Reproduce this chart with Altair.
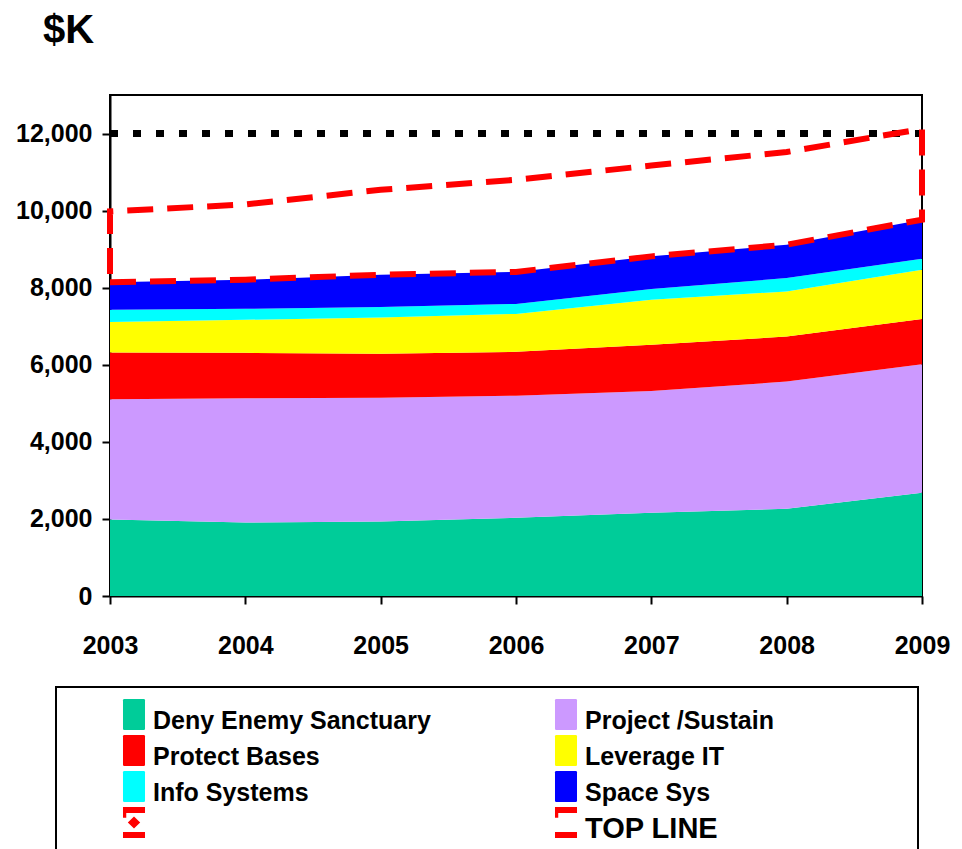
import altair as alt
import pandas as pd

# ---------------- data ----------------
years = [2003, 2004, 2005, 2006, 2007, 2008, 2009]
series_names = ["Deny Enemy Sanctuary", "Project /Sustain", "Protect Bases",
                "Leverage IT", "Info Systems", "Space Sys"]
series_colors = ["#00CC99", "#CC99FF", "#FF0000", "#FFFF00", "#00FFFF", "#0000FF"]

deny = [1986, 1908, 1934, 2028, 2158, 2262, 2677]
project = [3119, 3223, 3213, 3171, 3163, 3301, 3338]
protect = [1212, 1178, 1136, 1136, 1196, 1170, 1170]
leverage = [790, 858, 944, 985, 1169, 1169, 1281]
info = [318, 286, 273, 260, 279, 348, 286]
space = [715, 753, 837, 830, 848, 866, 1014]

top_line = [9980, 10160, 10540, 10800, 11170, 11520, 12120]
ceiling_years = [2003, 2009]
ceiling = [12000, 12000]

y_ticks = [0, 2000, 4000, 6000, 8000, 10000, 12000]
legend_names = series_names + [" ", "TOP LINE"]
legend_colors = series_colors + ["#FF0000", "#FF0000"]

# ---------------- tables ----------------
all_series = [deny, project, protect, leverage, info, space]
rows = []
for k, (name, vals) in enumerate(zip(series_names, all_series)):
    for yr, v in zip(years, vals):
        rows.append({"year": yr, "series": name, "value": v, "k": k})
df = pd.DataFrame(rows)

totals = [sum(s[i] for s in all_series) for i in range(len(years))]
tl_rows = []
idx = 0
for yr, v in zip(years, totals):
    tl_rows.append({"year": yr, "value": v, "idx": idx}); idx += 1
for yr, v in zip(reversed(years), reversed(top_line)):
    tl_rows.append({"year": yr, "value": v, "idx": idx}); idx += 1
tl_rows.append({"year": years[0], "value": totals[0], "idx": idx})
df_tl = pd.DataFrame(tl_rows)

df_ceiling = pd.DataFrame({"year": ceiling_years, "value": ceiling})

df_leg = pd.DataFrame({
    "series": legend_names,
    "col": [i % 2 for i in range(len(legend_names))],
    "row": [i // 2 for i in range(len(legend_names))],
})

# ---------------- styling ----------------
FONT = "'Liberation Sans', Arial, sans-serif"
W, H = 812, 501

xs = alt.Scale(domain=[2003, 2009], nice=False, zero=False)
ys = alt.Scale(domain=[0, 13000], nice=False)
color_scale = alt.Scale(domain=legend_names, range=legend_colors)

x_axis = alt.Axis(values=years, format="d", title=None, grid=False,
                  labelFont=FONT, labelFontSize=25, labelFontWeight="bold",
                  labelColor="black", labelPadding=29, tickSize=8, tickWidth=2,
                  tickColor="black", domainColor="black", domainWidth=2,
                  labelFlush=False, labelOverlap=False)
y_axis = alt.Axis(values=y_ticks, format=",d", title=None, grid=False,
                  labelFont=FONT, labelFontSize=25, labelFontWeight="bold",
                  labelColor="black", labelPadding=10, tickSize=8, tickWidth=2,
                  tickColor="black", domainColor="black", domainWidth=2,
                  labelFlush=False, labelOverlap=False)

area = alt.Chart(df).mark_area(interpolate="linear", opacity=1).encode(
    x=alt.X("year:Q", scale=xs, axis=x_axis),
    y=alt.Y("value:Q", stack="zero", scale=ys, axis=y_axis),
    color=alt.Color("series:N", scale=color_scale, legend=None),
    order=alt.Order("k:Q", sort="ascending"),
)

dotted = alt.Chart(df_ceiling).mark_line(
    color="black", strokeWidth=7, strokeDash=[8, 15], strokeCap="butt"
).encode(
    x=alt.X("year:Q", scale=xs, axis=x_axis),
    y=alt.Y("value:Q", scale=ys, axis=y_axis),
)

topline = alt.Chart(df_tl).mark_line(
    color="#FF0000", strokeWidth=6, strokeDash=[26, 14], strokeCap="butt"
).encode(
    x=alt.X("year:Q", scale=xs, axis=x_axis),
    y=alt.Y("value:Q", scale=ys, axis=y_axis),
    order=alt.Order("idx:Q"),
)

plot = alt.layer(area, dotted, topline)

# ---------------- legend (drawn below the plot) ----------------
COL_STEP, ROW_STEP = 432, 36
leg_xs = alt.Scale(domain=[-24 / COL_STEP, (W - 24) / COL_STEP], nice=False, zero=False)
leg_ys = alt.Scale(domain=[-619.5 / ROW_STEP, (H - 619.5) / ROW_STEP],
                   reverse=True, nice=False, zero=False)
lx = alt.X("col:Q", scale=leg_xs, axis=None)
ly = alt.Y("row:Q", scale=leg_ys, axis=None)

box = alt.Chart(pd.DataFrame({"a": [0]})).mark_rect(
    fill="white", stroke="black", strokeWidth=2
).encode(x=alt.value(-54), x2=alt.value(808), y=alt.value(592), y2=alt.value(860))

RECT = "M-0.71,-0.92 Q-0.71,-1 -0.63,-1 L0.63,-1 Q0.71,-1 0.71,-0.92 L0.71,0.92 Q0.71,1 0.63,1 L-0.63,1 Q-0.71,1 -0.71,0.92 Z"
BARS = "M-0.71,-1 L0.71,-1 L0.71,-0.62 L-0.71,-0.62 Z M-0.71,0.62 L0.71,0.62 L0.71,1 L-0.71,1 Z M-0.71,-1 L-0.5,-1 L-0.5,-0.3 L-0.71,-0.3 Z"
BARS_DIAMOND = BARS + " M0,-0.38 L0.4,0 L0,0.38 L-0.4,0 Z"

sym_area = alt.Chart(df_leg).transform_filter(
    alt.FieldOneOfPredicate(field="series", oneOf=series_names)
).mark_point(shape=RECT, filled=True, size=961, opacity=1, strokeWidth=0).encode(
    x=lx, y=ly, color=alt.Color("series:N", scale=color_scale, legend=None)
)
sym_top = alt.Chart(df_leg).transform_filter(
    alt.datum.series == "TOP LINE"
).mark_point(shape=BARS, filled=True, size=961, opacity=1, color="#FF0000", strokeWidth=0).encode(
    x=lx, y=ly
)
sym_blank = alt.Chart(df_leg).transform_filter(
    alt.datum.series == " "
).mark_point(shape=BARS_DIAMOND, filled=True, size=961, opacity=1, color="#FF0000", strokeWidth=0).encode(
    x=lx, y=ly
)
labels = alt.Chart(df_leg).mark_text(
    align="left", baseline="middle", dx=19, dy=6, font=FONT,
    fontWeight="bold", color="black"
).encode(
    x=lx, y=ly, text="series:N",
    size=alt.condition(alt.datum.series == "TOP LINE", alt.value(29), alt.value(25)),
)

legend_layer = alt.layer(box, sym_area, sym_top, sym_blank, labels)

chart = alt.layer(plot, legend_layer).resolve_scale(
    x="independent", y="independent"
).properties(
    width=W, height=H,
    background="white",
    title=alt.TitleParams("$K", anchor="start", frame="group", fontSize=40,
                          font=FONT, fontWeight="bold", color="black",
                          dx=-67, offset=44),
    autosize=alt.AutoSizeParams(type="none"),
    padding={"left": 102, "top": 87, "right": 30, "bottom": 253},
).configure_view(
    stroke="black", strokeWidth=2
)

chart.save("out.html", embed_options={"renderer": "svg", "actions": False})
